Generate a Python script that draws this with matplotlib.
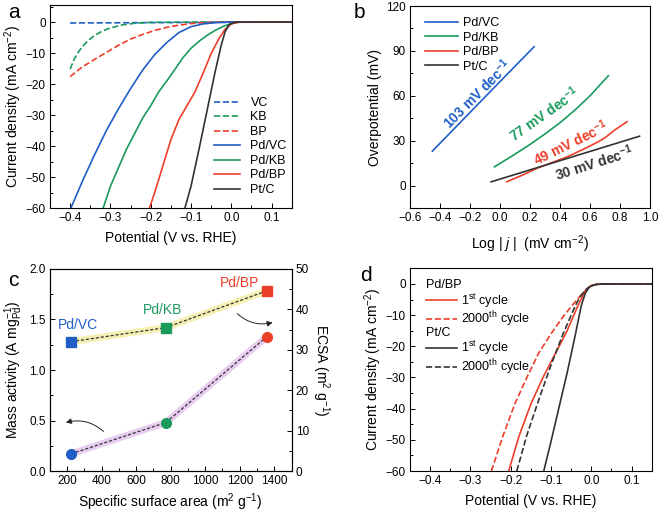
import matplotlib
matplotlib.use("Agg")
import matplotlib.pyplot as plt
from matplotlib.ticker import MultipleLocator
from matplotlib.lines import Line2D

plt.rcParams['font.family'] = ['Liberation Sans', 'DejaVu Sans']
plt.rcParams['mathtext.fontset'] = 'custom'
plt.rcParams['mathtext.rm'] = 'Liberation Sans'
plt.rcParams['mathtext.it'] = 'Liberation Sans:italic'
plt.rcParams['mathtext.bf'] = 'Liberation Sans:bold'
plt.rcParams['axes.linewidth'] = 0.8

BLUE = '#1f5ec6'
GREEN = '#1a9a5c'
RED = '#ec3f2a'
BLACK = '#333333'

# ---- panel a: LSV curves
vc_x = [-0.40, 0.15]
vc_y = [-0.3, 0.0]
kb_x = [-0.40, -0.39, -0.38, -0.37, -0.36, -0.35, -0.34, -0.32, -0.30, -0.27, -0.24, -0.20, -0.10, 0.15]
kb_y = [-15.2, -12.0, -9.8, -8.0, -6.6, -5.4, -4.4, -2.9, -1.9, -0.9, -0.4, -0.1, 0.0, 0.0]
bp_x = [-0.40, -0.37, -0.34, -0.31, -0.28, -0.25, -0.22, -0.19, -0.16, -0.13, -0.10, -0.07, -0.03, 0.15]
bp_y = [-17.6, -14.5, -12.1, -9.8, -7.5, -5.5, -4.0, -2.7, -1.7, -1.0, -0.5, -0.2, 0.0, 0.0]
pdvc_x = [-0.398, -0.37, -0.34, -0.31, -0.28, -0.25, -0.22, -0.19, -0.16, -0.13, -0.10, -0.07, -0.04, 0.0, 0.15]
pdvc_y = [-60, -51.5, -43, -35, -28, -21.5, -15.5, -10.5, -6.6, -3.4, -1.5, -0.6, -0.2, 0.0, 0.0]
pdkb_x = [-0.318, -0.30, -0.28, -0.26, -0.24, -0.22, -0.20, -0.18, -0.16, -0.14, -0.12, -0.10, -0.08, -0.06, -0.04, -0.02, 0.0, 0.02, 0.15]
pdkb_y = [-60, -53, -47, -41, -36, -31, -27, -22.5, -19, -15.3, -11.5, -8.5, -6.2, -4.3, -2.7, -1.4, -0.5, 0.0, 0.0]
pdbp_x = [-0.203, -0.19, -0.17, -0.15, -0.13, -0.11, -0.09, -0.07, -0.05, -0.03, -0.015, 0.0, 0.02, 0.15]
pdbp_y = [-60, -55, -46.5, -38, -31.5, -27, -22.5, -16.5, -10.2, -5.2, -2.3, -0.6, 0.0, 0.0]
ptc_x = [-0.115, -0.10, -0.08, -0.06, -0.04, -0.025, -0.015, -0.005, 0.01, 0.15]
ptc_y = [-60, -53, -41, -28.5, -16, -7.5, -3.0, -0.8, 0.0, 0.0]

# ---- panel b: Tafel
tvc_x = [-0.451, -0.2, 0.0, 0.227]
tvc_y = [23.0, 48.9, 69.5, 92.8]
tkb_x = [-0.037, 0.1, 0.2, 0.3, 0.4, 0.5, 0.6, 0.722]
tkb_y = [12.5, 21.0, 27.5, 34.5, 42.0, 50.5, 60.0, 73.4]
tbp_x = [0.044, 0.15, 0.25, 0.35, 0.45, 0.55, 0.65, 0.70, 0.77, 0.847]
tbp_y = [2.5, 7.0, 11.7, 15.5, 19.3, 24.0, 29.0, 32.0, 37.5, 42.7]
tpt_x = [-0.059, 0.93]
tpt_y = [2.5, 33.0]
tafel_labels = ['103 mV dec$^{\\mathbf{-1}}$', '77 mV dec$^{\\mathbf{-1}}$',
                '49 mV dec$^{\\mathbf{-1}}$', '30 mV dec$^{\\mathbf{-1}}$']

# ---- panel c
ssa = [222, 772, 1357]
mass_act = [0.17, 0.48, 1.33]
ecsa = [32.0, 35.5, 44.6]
cat_names = ['Pd/VC', 'Pd/KB', 'Pd/BP']
cat_colors = [BLUE, GREEN, RED]

# ---- panel d: stability
bp1_x = [-0.205, -0.18, -0.15, -0.12, -0.09, -0.06, -0.035, -0.02, -0.01, 0.0, 0.02, 0.15]
bp1_y = [-60, -49, -38.5, -30, -22.5, -15, -7.5, -3.5, -1.5, -0.5, 0.0, 0.0]
bp2_x = [-0.248, -0.22, -0.19, -0.16, -0.13, -0.10, -0.07, -0.045, -0.025, -0.01, 0.0, 0.02, 0.15]
bp2_y = [-60, -49, -38.5, -30, -22, -16, -10.5, -6.5, -3.5, -1.5, -0.5, 0.0, 0.0]
pt1_x = [-0.118, -0.10, -0.08, -0.06, -0.04, -0.025, -0.015, -0.005, 0.01, 0.03, 0.15]
pt1_y = [-60, -50.5, -39.5, -28.5, -16.5, -7.0, -3.0, -1.0, -0.2, 0.0, 0.0]
pt2_x = [-0.185, -0.16, -0.13, -0.10, -0.07, -0.045, -0.03, -0.015, 0.0, 0.02, 0.15]
pt2_y = [-60, -48.5, -37, -26, -16, -8.5, -4.5, -2.0, -0.5, 0.0, 0.0]

TFS = 8.5
LFS = 10
LW = 1.2

fig = plt.figure(figsize=(6.61, 5.15), dpi=100)


def style(ax, right=False):
    ax.tick_params(which='both', direction='in', labelsize=TFS, pad=3,
                   top=False, right=right)
    ax.tick_params(which='major', length=3.5, width=0.7)
    ax.tick_params(which='minor', length=2, width=0.7)


# panel a
ax = fig.add_axes([0.0756, 0.5961, 0.3657, 0.3942])
ax.plot(vc_x, vc_y, '--', color=BLUE, lw=LW, label='VC')
ax.plot(kb_x, kb_y, '--', color=GREEN, lw=LW, label='KB')
ax.plot(bp_x, bp_y, '--', color=RED, lw=LW, label='BP')
ax.plot(pdvc_x, pdvc_y, color=BLUE, lw=LW, label='Pd/VC')
ax.plot(pdkb_x, pdkb_y, color=GREEN, lw=LW, label='Pd/KB')
ax.plot(pdbp_x, pdbp_y, color=RED, lw=LW, label='Pd/BP')
ax.plot(ptc_x, ptc_y, color=BLACK, lw=LW, label='Pt/C')
ax.set_xlim(-0.45, 0.15)
ax.set_ylim(-60, 5.5)
ax.xaxis.set_major_locator(MultipleLocator(0.1))
ax.xaxis.set_minor_locator(MultipleLocator(0.05))
ax.yaxis.set_major_locator(MultipleLocator(10))
ax.yaxis.set_minor_locator(MultipleLocator(5))
style(ax)
ax.set_xlabel('Potential (V vs. RHE)', fontsize=LFS, labelpad=5)
ax.set_ylabel('Current density (mA cm$^{-2}$)', fontsize=LFS, labelpad=1)
ax.legend(loc='lower right', bbox_to_anchor=(1.0, 0.035), frameon=False, fontsize=9,
          handlelength=2.1, labelspacing=0.2, handletextpad=0.8, borderaxespad=0)
fig.text(0.012, 0.965, 'a', fontsize=15)

# panel b
ax = fig.add_axes([0.6203, 0.5961, 0.3631, 0.3922])
ax.plot(tvc_x, tvc_y, color=BLUE, lw=LW, label='Pd/VC')
ax.plot(tkb_x, tkb_y, color=GREEN, lw=LW, label='Pd/KB')
ax.plot(tbp_x, tbp_y, color=RED, lw=LW, label='Pd/BP')
ax.plot(tpt_x, tpt_y, color=BLACK, lw=LW, label='Pt/C')
ax.set_xlim(-0.6, 1.0)
ax.set_ylim(-15, 120)
ax.xaxis.set_major_locator(MultipleLocator(0.2))
ax.yaxis.set_major_locator(MultipleLocator(30))
ax.yaxis.set_minor_locator(MultipleLocator(15))
style(ax)
ax.set_xlabel(r'Log | $j$ |  (mV cm$^{-2}$)', fontsize=LFS, labelpad=7)
ax.set_ylabel('Overpotential (mV)', fontsize=LFS, labelpad=3)
ax.legend(loc='upper left', bbox_to_anchor=(0.04, 0.97), frameon=False, fontsize=9,
          handlelength=2.7, labelspacing=0.2, handletextpad=0.4, borderaxespad=0)
ann_pos = [(-0.154, 61), (0.297, 47.6), (0.473, 28.6), (0.627, 15.2)]
ann_rot = [45, 35, 26, 17.5]
for lab, (x, y), r, c in zip(tafel_labels, ann_pos, ann_rot, [BLUE, GREEN, RED, BLACK]):
    ax.text(x, y, lab, color=c, fontsize=10, fontweight='bold', rotation=r,
            ha='center', va='center', rotation_mode='anchor')
fig.text(0.535, 0.965, 'b', fontsize=15)

# panel c
ax = fig.add_axes([0.0756, 0.0854, 0.3654, 0.3923])
ax2 = ax.twinx()
ax.set_xlim(100, 1500)
ax.set_ylim(0, 2.0)
ax2.set_ylim(0, 50)
ax2.plot(ssa, ecsa, color='#f6f0b4', lw=5, solid_capstyle='round', zorder=1)
ax2.plot(ssa, ecsa, '--', color='#333333', lw=0.9, dashes=(2.5, 1.5), zorder=2)
ax.plot(ssa, mass_act, color='#e9cdf0', lw=5, solid_capstyle='round', zorder=1)
ax.plot(ssa, mass_act, '--', color='#333333', lw=0.9, dashes=(2.5, 1.5), zorder=2)
lab_dx = [40, -20, -160]
lab_dy = [4.1, 4.3, 2.0]
for x, m, e, c, n, dx, dy in zip(ssa, mass_act, ecsa, cat_colors, cat_names, lab_dx, lab_dy):
    ax.plot(x, m, 'o', color=c, ms=7, zorder=3)
    ax2.plot(x, e, 's', color=c, ms=6.5, zorder=3)
    ax2.text(x + dx, e + dy, n, color=c, fontsize=10, ha='center', va='center')
ax.annotate('', xy=(177, 0.472), xytext=(422, 0.373),
            arrowprops=dict(arrowstyle='-|>', color='#222222', lw=0.7,
                            connectionstyle='arc3,rad=0.3', mutation_scale=8))
ax.annotate('', xy=(1406, 1.478), xytext=(1174, 1.577),
            arrowprops=dict(arrowstyle='-|>', color='#222222', lw=0.7,
                            connectionstyle='arc3,rad=0.3', mutation_scale=8))
ax.xaxis.set_major_locator(MultipleLocator(200))
ax.xaxis.set_minor_locator(MultipleLocator(100))
ax.yaxis.set_major_locator(MultipleLocator(0.5))
ax.yaxis.set_minor_locator(MultipleLocator(0.25))
ax2.yaxis.set_major_locator(MultipleLocator(10))
ax2.yaxis.set_minor_locator(MultipleLocator(5))
style(ax)
style(ax2, right=True)
ax2.tick_params(which='both', left=False)
ax.set_xlabel('Specific surface area (m$^2$ g$^{-1}$)', fontsize=LFS, labelpad=3)
ax.set_ylabel(r'Mass activity (A mg$_{\mathrm{Pd}}^{-1}$)', fontsize=LFS, labelpad=3)
ax2.set_ylabel('ECSA (m$^2$ g$^{-1}$)', fontsize=LFS, rotation=270, labelpad=16)
fig.text(0.012, 0.445, 'c', fontsize=15)

# panel d
ax = fig.add_axes([0.6203, 0.0854, 0.3657, 0.3936])
ax.plot(bp1_x, bp1_y, color=RED, lw=LW)
ax.plot(bp2_x, bp2_y, '--', color=RED, lw=LW)
ax.plot(pt1_x, pt1_y, color=BLACK, lw=LW)
ax.plot(pt2_x, pt2_y, '--', color=BLACK, lw=LW)
ax.set_xlim(-0.45, 0.15)
ax.set_ylim(-60, 5)
ax.xaxis.set_major_locator(MultipleLocator(0.1))
ax.xaxis.set_minor_locator(MultipleLocator(0.05))
ax.yaxis.set_major_locator(MultipleLocator(10))
ax.yaxis.set_minor_locator(MultipleLocator(5))
style(ax)
ax.set_xlabel('Potential (V vs. RHE)', fontsize=LFS, labelpad=5)
ax.set_ylabel('Current density (mA cm$^{-2}$)', fontsize=LFS, labelpad=1)
h1 = [Line2D([], [], color=RED, lw=LW), Line2D([], [], color=RED, lw=LW, ls='--')]
h2 = [Line2D([], [], color=BLACK, lw=LW), Line2D([], [], color=BLACK, lw=LW, ls='--')]
cyc = ['1$^{\\mathrm{st}}$ cycle', '2000$^{\\mathrm{th}}$ cycle']
leg_kw = dict(loc='upper left', frameon=False, fontsize=9, title_fontsize=9,
              alignment='left', handlelength=2.5, labelspacing=0.0, handletextpad=0.3,
              borderaxespad=0, borderpad=0)
leg1 = ax.legend(h1, cyc, title='Pd/BP', bbox_to_anchor=(0.065, 0.945), **leg_kw)
ax.add_artist(leg1)
ax.legend(h2, cyc, title='Pt/C', bbox_to_anchor=(0.065, 0.71), **leg_kw)
fig.text(0.545, 0.455, 'd', fontsize=15)

fig.savefig('out.png', dpi=100)
